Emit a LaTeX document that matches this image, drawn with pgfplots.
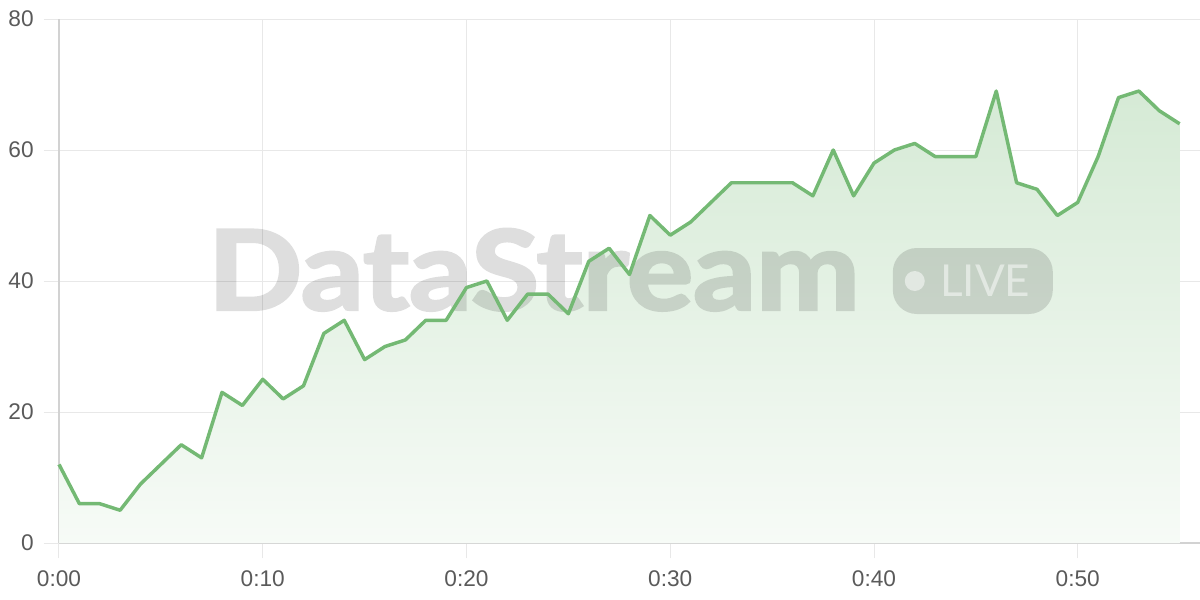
\documentclass[border=0pt]{standalone}
\usepackage{pgfplots}
\pgfplotsset{compat=1.18}
\usepackage{fontspec}
\setmainfont{Liberation Sans}
\newfontfamily\wmfont{Lato}[BoldFeatures={FakeBold=2.5}]
\newfontfamily\badgefont{Lato}
\definecolor{linegreen}{HTML}{74B974}
\definecolor{gridgray}{HTML}{E8E8E8}
\definecolor{axisgray}{HTML}{D2D2D2}
\definecolor{ticktext}{HTML}{5A5A5A}

% value per minute
\pgfplotstableread{
t v
0 12
1 6
2 6
3 5
4 9
5 12
6 15
7 13
8 23
9 21
10 25
11 22
12 24
13 32
14 34
15 28
16 30
17 31
18 34
19 34
20 39
21 40
22 34
23 38
24 38
25 35
26 43
27 45
28 41
29 50
30 47
31 49
32 52
33 55
34 55
35 55
36 55
37 53
38 60
39 53
40 58
41 60
42 61
43 59
44 59
45 59
46 69
47 55
48 54
49 50
50 52
51 59
52 68
53 69
54 66
55 64
}\datatable

\begin{document}
\begin{tikzpicture}
\begin{axis}[
    at={(0,0)}, anchor=south west,
    scale only axis, width=855.75pt, height=393pt,
    xmin=0, xmax=56, ymin=0, ymax=80,
    xtick={0,10,...,50},
    xticklabels={0:00,0:10,0:20,0:30,0:40,0:50},
    ytick={0,20,...,80},
    grid=major,
    major grid style={gridgray, line width=0.75pt},
    axis lines=left,
    axis line style={-, axisgray, line width=1.1pt},
    tick align=outside, major tick length=11.5pt,
    tick style={gridgray, line width=0.75pt},
    ticklabel style={font=\fontsize{17}{20}\selectfont, text=ticktext},
    xticklabel style={yshift=-6pt},
    yticklabel style={xshift=-4pt},
    /pgf/number format/assume math mode=true,
    clip=false,
]
\addplot[draw=none, top color=linegreen!30, bottom color=linegreen!6, forget plot]
    table {\datatable} \closedcycle;

\begin{scope}[transparency group, opacity=0.13]
\node[anchor=base west, inner sep=0, text=black, xscale=1.12,
      font=\wmfont\bfseries\fontsize{83}{90}\selectfont]
      at (axis cs:7.3,35.6) {DataStream};
\end{scope}
\node[fill=black, fill opacity=0.13, rounded corners=18pt,
      minimum width=120pt, minimum height=49.5pt, inner sep=0]
      at (axis cs:44.85,40) {};
\fill[white, fill opacity=0.5] (axis cs:42.0,40) circle (7.5pt);
\node[anchor=base west, inner sep=0, text=white, text opacity=0.5,
      font=\badgefont\fontsize{33}{36}\selectfont]
      at (axis cs:43.23,37.56) {LIVE};

\addplot[linegreen, line width=2.6pt, line join=round] table {\datatable};
\end{axis}
\pgfresetboundingbox
\path (-44.25pt,-42.75pt) rectangle (855.75pt,407.25pt);
\end{tikzpicture}
\end{document}
